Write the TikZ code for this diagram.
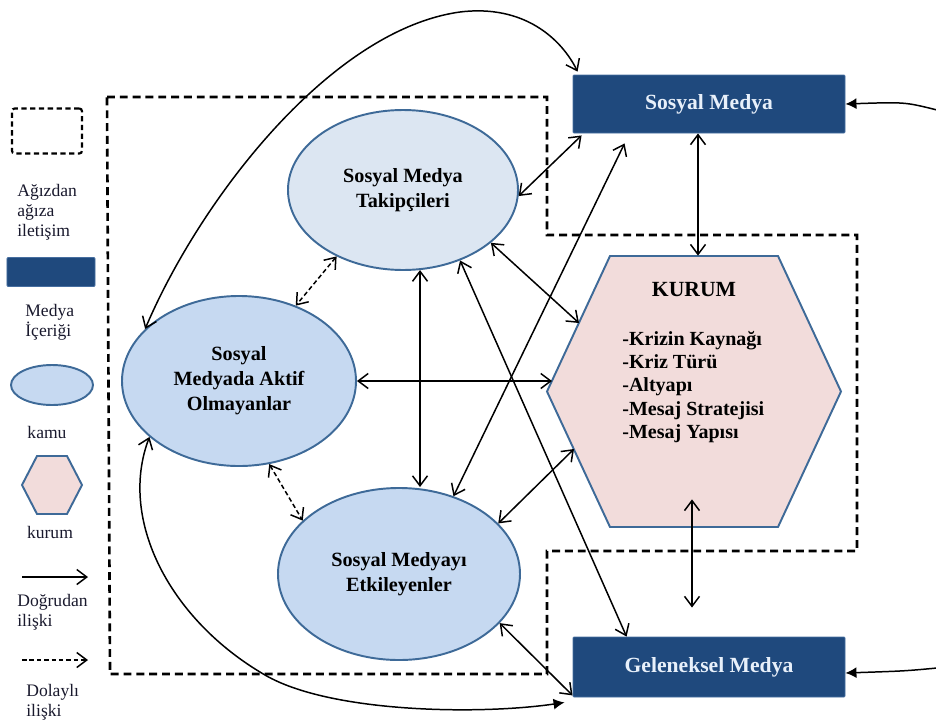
\documentclass[tikz,border=0pt]{standalone}
\usepackage{fontspec}
\setmainfont{Liberation Serif}
\usetikzlibrary{arrows.meta,calc,shapes.geometric}
\definecolor{boxblue}{RGB}{31,73,125}
\definecolor{boxedge}{RGB}{70,110,160}
\definecolor{boxtext}{RGB}{232,240,250}
\definecolor{ellblue}{RGB}{62,106,152}
\definecolor{elllight}{RGB}{220,230,242}
\definecolor{ellmid}{RGB}{198,217,241}
\definecolor{hexfill}{RGB}{242,220,219}
\definecolor{legtext}{RGB}{25,25,45}
\begin{document}
\begin{tikzpicture}[x=0.2mm,y=-0.2mm,
  >={Straight Barb[length=2mm,width=3mm]},
  conn/.style={line width=0.85pt,<->},
  dconn/.style={line width=0.85pt,<->,dash pattern=on 2.6pt off 1.6pt},
  mediabox/.style={rectangle,fill=boxblue,draw=boxedge,line width=0.5pt,rounded corners=0.6pt,
    text=boxtext,font=\fontsize{12.3}{14}\selectfont\bfseries,inner sep=0pt},
  kamu/.style={ellipse,draw=ellblue,line width=1.1pt,align=center,inner sep=0pt,
    font=\fontsize{11.5}{14.2}\selectfont\bfseries},
  legt/.style={text=legtext,align=left,inner sep=0pt,font=\fontsize{10}{11.4}\selectfont},
  boundary/.style={line width=1.5pt,dash pattern=on 4.5pt off 2.8pt}]
\useasboundingbox (0,0) rectangle (936,728);

% dashed boundary
\draw[boundary] (107,97) -- (547,97) -- (547,235) -- (857,235) -- (857,551) -- (547,551) -- (547,674) -- (110,674) -- cycle;

% media boxes
\node[mediabox,minimum width=54.4mm,minimum height=11.6mm] (sm) at (709,104) {Sosyal Medya};
\node[mediabox,minimum width=54.4mm,minimum height=12mm] (gm) at (709,667) {Geleneksel Medya};

% publics
\node[kamu,fill=elllight,minimum width=46mm,minimum height=32mm] (tak) at (403,190) {Sosyal Medya\\Takipçileri};
\node[kamu,fill=ellmid,minimum width=46.8mm,minimum height=34mm] (aktif) at (239,381) {Sosyal\\Medyada Aktif\\Olmayanlar};
\node[kamu,fill=ellmid,minimum width=48.4mm,minimum height=34.4mm] (etk) at (399,574) {Sosyal Medyayı\\Etkileyenler};

% institution hexagon
\draw[fill=hexfill,draw=ellblue,line width=1.1pt] (547,391.5) -- (610,256) -- (778,256) -- (841,391.5) -- (778,527) -- (610,527) -- cycle;
\node[minimum width=58.8mm,minimum height=54.2mm,inner sep=0pt] (kurum) at (694,391.5) {};
\node[font=\fontsize{12.3}{14}\selectfont\bfseries] (kt) at (694,290) {KURUM};
\node[anchor=north west,align=left,inner sep=0pt,font=\fontsize{11.4}{13.2}\selectfont\bfseries] (kl) at (622,331) {-Krizin Kaynağı\\-Kriz Türü\\-Altyapı\\-Mesaj Stratejisi\\-Mesaj Yapısı};
\coordinate (kb) at (579,323);
\coordinate (kf) at (552,381);
\coordinate (ki) at (574,449);

% connectors
\draw[conn] (tak.-3) -- ([xshift=1.8mm,yshift=-0.4mm]sm.south west);
\draw[conn] (tak.-31) -- (kb);
\draw[conn] (tak.-51) -- ([xshift=10.8mm]gm.north west);
\draw[conn] ([xshift=10.4mm,yshift=-2mm]sm.south west) -- (etk.55);
\draw[conn] (tak.-78) -- (tak.-78 |- etk.north);
\draw[conn] (aktif.east) -- (aktif.east -| kf);
\draw[dconn] (tak.225) -- (aktif.53);
\draw[dconn] (aktif.-70) -- (etk.151);
\draw[conn] (etk.27) -- (ki);
\draw[conn] (etk.-26) -- ([yshift=0.4mm]gm.south west);
\draw[conn] ([xshift=-2.2mm]sm.south) -- ([xshift=-2.2mm]sm.south |- kurum.north);
\coordinate (kbot) at ([xshift=-0.4mm,yshift=5.6mm]kurum.south);
\coordinate (gtop) at ([yshift=5.8mm]kbot |- gm.north);
\draw[conn] (kbot) -- (gtop);

% long curves
\draw[conn] (aktif.151) .. controls (200,200) and (330,30) .. (460,12) .. controls (525,4) and (562,40) .. ([xshift=1mm,yshift=0.6mm]sm.north west);
\draw[line width=0.85pt,{Straight Barb[length=2mm,width=3mm]}-{Latex[length=2.2mm,width=2.2mm]}] (aktif.212) .. controls (118,520) and (170,620) .. (265,675) .. controls (330,713) and (480,715) .. ([xshift=-1.6mm,yshift=-1mm]gm.south west);
\coordinate (rsm) at (937,110);
\coordinate (rgm) at (937,668);
\draw[line width=0.85pt,-{Latex[length=2.2mm,width=2.2mm]}] (rsm) .. controls (905,102) .. (sm.east);
\draw[line width=0.85pt,-{Latex[length=2.2mm,width=2.2mm]}] (rgm) .. controls (905,671) .. ([yshift=-1.2mm]gm.east);

% legend
\node[draw,line width=1.2pt,dash pattern=on 3pt off 2pt,rounded corners=1.5pt,minimum width=14mm,minimum height=9mm,inner sep=0pt] (lg1) at (47,131) {};
\node[legt,anchor=north west] (lt1) at (17,184) {Ağızdan\\ağıza\\iletişim};
\node[mediabox,minimum width=17.6mm,minimum height=5.8mm] (lg2) at (51,272) {};
\node[legt,anchor=north west] (lt2) at (25,304) {Medya\\İçeriği};
\node[ellipse,draw=ellblue,fill=ellmid,line width=1.1pt,minimum width=16.4mm,minimum height=8mm,inner sep=0pt] (lg3) at (52,385) {};
\node[legt] (lt3) at (47,432) {kamu};
\draw[fill=hexfill,draw=ellblue,line width=1.1pt] (22,485) -- (37,456) -- (67,456) -- (82,485) -- (67,514) -- (37,514) -- cycle;
\node[legt] (lt4) at (50,532) {kurum};
\coordinate (la1) at (22,577);
\coordinate (la2) at (88,577);
\draw[line width=0.85pt,->] (la1) -- (la2);
\node[legt,anchor=north west] (lt5) at (17,594) {Doğrudan\\ilişki};
\coordinate (lb1) at (22,660);
\coordinate (lb2) at (88,660);
\draw[line width=0.85pt,->,dash pattern=on 2.6pt off 1.6pt] (lb1) -- (lb2);
\node[legt,anchor=north west] (lt6) at (26,684) {Dolaylı\\ilişki};
\end{tikzpicture}
\end{document}
